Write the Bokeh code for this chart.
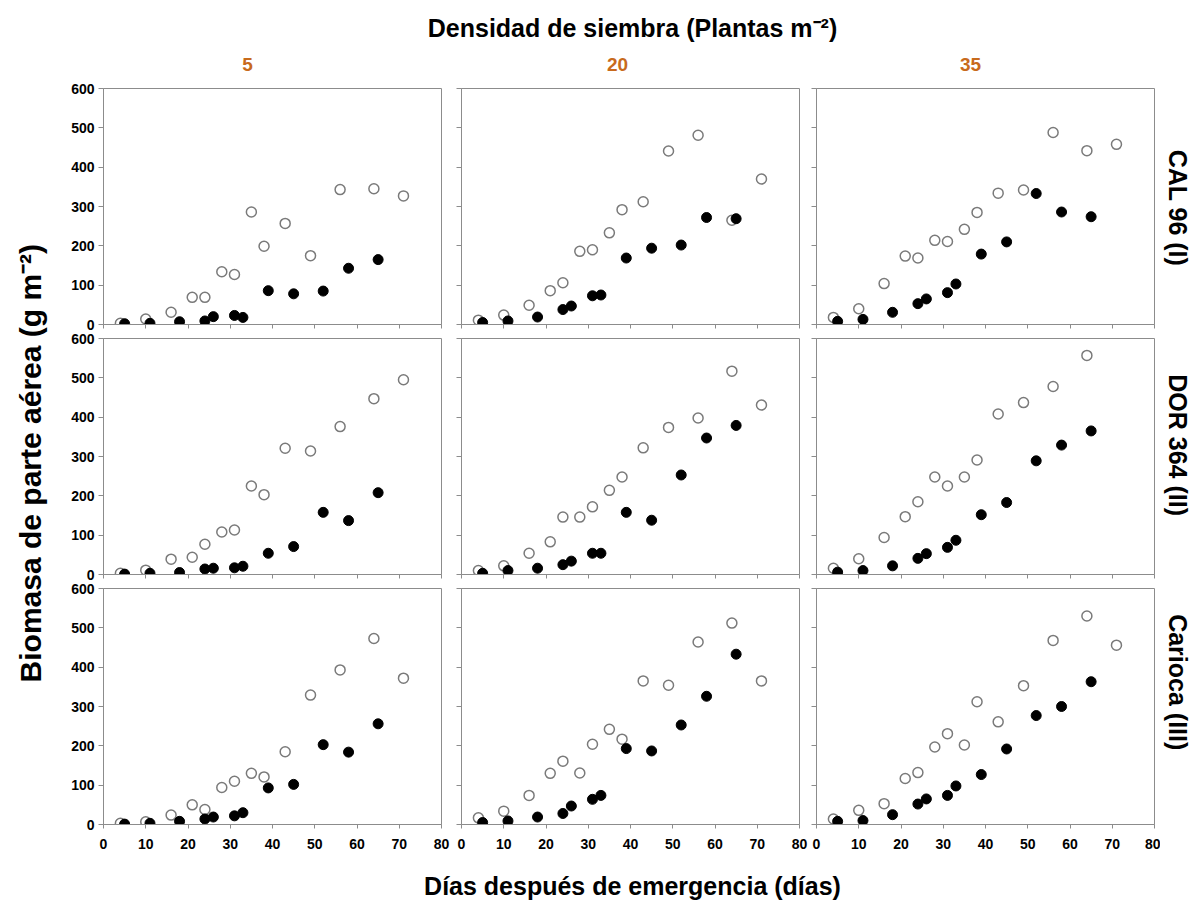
from math import pi
from bokeh.plotting import figure
from bokeh.models import GridBox, Label, Range1d, CustomJSTickFormatter, FixedTicker, ColumnDataSource
from bokeh.embed import file_html
from bokeh.resources import INLINE

# ---------------- data ----------------
open_days = [4, 10, 16, 21, 24, 28, 31, 35, 38, 43, 49, 56, 64, 71]
filled_days = [5, 11, 18, 24, 26, 31, 33, 39, 45, 52, 58, 65]

cultivars = ["CAL 96 (I)", "DOR 364 (II)", "Carioca (III)"]
densities = ["5", "20", "35"]

x_ticks = [0, 10, 20, 30, 40, 50, 60, 70, 80]
y_ticks = [0, 100, 200, 300, 400, 500, 600]

# CAL 96 (I)
open_cal_5 = [3, 14, 31, 69, 69, 134, 127, 286, 199, 257, 175, 343, 345, 327]
filled_cal_5 = [2, 3, 7, 9, 20, 23, 18, 86, 78, 85, 143, 165]
open_cal_20 = [11, 24, 49, 86, 106, 186, 190, 233, 292, 312, 441, 481, 265, 370]
filled_cal_20 = [5, 9, 19, 38, 47, 73, 75, 169, 194, 202, 272, 269]
open_cal_35 = [18, 40, 104, 174, 169, 214, 211, 242, 285, 334, 342, 488, 442, 458]
filled_cal_35 = [8, 13, 31, 53, 65, 81, 103, 179, 210, 333, 286, 274]

# DOR 364 (II)
open_dor_5 = [3, 11, 39, 44, 77, 108, 113, 225, 203, 321, 314, 376, 447, 495]
filled_dor_5 = [1, 3, 5, 14, 16, 17, 21, 54, 71, 158, 137, 208]
open_dor_20 = [10, 22, 54, 83, 146, 146, 172, 214, 248, 322, 374, 398, 517, 431]
filled_dor_20 = [3, 10, 16, 25, 34, 54, 54, 158, 138, 253, 347, 379]
open_dor_35 = [16, 40, 94, 147, 185, 248, 225, 248, 291, 408, 437, 478, 557]
filled_dor_35 = [6, 10, 22, 41, 53, 69, 87, 152, 183, 289, 329, 365]

# Carioca (III)
open_car_5 = [3, 7, 24, 50, 38, 94, 110, 130, 121, 185, 329, 393, 473, 372]
filled_car_5 = [1, 3, 8, 14, 19, 22, 30, 93, 102, 203, 184, 256]
open_car_20 = [17, 34, 74, 130, 161, 131, 204, 242, 217, 365, 354, 464, 512, 365]
filled_car_20 = [5, 9, 19, 28, 47, 64, 74, 193, 187, 253, 326, 433]
open_car_35 = [14, 36, 53, 117, 132, 197, 231, 202, 312, 261, 353, 468, 530, 456]
filled_car_35 = [8, 10, 25, 52, 65, 74, 98, 127, 192, 277, 300, 363]

open_series = [[open_cal_5, open_cal_20, open_cal_35],
               [open_dor_5, open_dor_20, open_dor_35],
               [open_car_5, open_car_20, open_car_35]]
filled_series = [[filled_cal_5, filled_cal_20, filled_cal_35],
                 [filled_dor_5, filled_dor_20, filled_dor_35],
                 [filled_car_5, filled_car_20, filled_car_35]]

# ---------------- style ----------------
FONT = "Liberation Sans"
GRAY = "#8c8c8c"
ORANGE = "#C86A1C"

col_left = [53, 10, 8]
col_right = [10, 9, 6]
row_top = [8, 7, 7]
row_bottom = [7, 7, 32]
FW, FH = 338, 236
TOTAL_W = 1190
GRID_H = 251 + 250 + 275


def text_fig(w, h):
    f = figure(width=w, height=h, x_range=Range1d(0, w), y_range=Range1d(0, h),
               toolbar_location=None, output_backend="svg",
               x_axis_location=None, y_axis_location=None, min_border=0)
    f.grid.visible = False
    f.outline_line_color = None
    return f


def add_text(f, x, y, text, size, color="black", angle=0.0):
    f.add_layout(Label(x=x, y=y, text=text, text_font=FONT, text_font_style="bold",
                       text_font_size=size, text_color=color, text_align="center",
                       text_baseline="middle", angle=angle))


children = []

# top: main title + density headers
top = text_fig(TOTAL_W, 80)
add_text(top, 632, 53, "Densidad de siembra (Plantas m\u207b\u00b2)", "25px")
for xc, d in zip([247, 617, 970], densities):
    add_text(top, xc, 16, d, "19px", ORANGE)
children.append((top, 0, 0, 1, 5))

# left: y axis title
left = text_fig(50, GRID_H)
add_text(left, 30, 381, "Biomasa de parte a\u00e9rea (g m\u207b\u00b2)", "30px", angle=pi / 2)
children.append((left, 1, 0, 3, 1))

# right: cultivar labels
right = text_fig(30, GRID_H)
for yc, cv in zip([650, 400, 150], cultivars):
    add_text(right, 17, yc, cv, "25px", angle=-pi / 2)
children.append((right, 1, 4, 3, 1))

# bottom: x axis title
bottom = text_fig(TOTAL_W, 44)
add_text(bottom, 632, 15, "D\u00edas despu\u00e9s de emergencia (d\u00edas)", "25px")
children.append((bottom, 4, 0, 1, 5))

blank = CustomJSTickFormatter(code="return ''")

for r in range(3):
    for c in range(3):
        p = figure(frame_width=FW, frame_height=FH,
                   x_range=Range1d(0, 80), y_range=Range1d(0, 600),
                   toolbar_location=None, output_backend="svg",
                   min_border_left=col_left[c], min_border_right=col_right[c],
                   min_border_top=row_top[r], min_border_bottom=row_bottom[r])
        p.grid.visible = False
        p.outline_line_color = GRAY
        p.outline_line_width = 1
        p.background_fill_color = "white"
        p.border_fill_color = "white"

        for ax in (p.xaxis[0], p.yaxis[0]):
            ax.axis_line_color = GRAY
            ax.major_tick_line_color = GRAY
            ax.minor_tick_line_color = None
            ax.major_tick_in = 0
            ax.major_label_text_font = FONT
            ax.major_label_text_font_style = "bold"
            ax.major_label_text_font_size = "14px"
            ax.major_label_text_color = "black"
        p.xaxis.ticker = FixedTicker(ticks=x_ticks)
        p.yaxis.ticker = FixedTicker(ticks=y_ticks)
        p.xaxis.major_tick_out = 4
        p.yaxis.major_tick_out = 5

        if c == 0:
            p.yaxis.major_label_standoff = 4
        else:
            p.yaxis.formatter = blank
            p.yaxis.major_label_standoff = 0
        if r == 2:
            p.xaxis.major_label_standoff = 10
        else:
            p.xaxis.formatter = blank
            p.xaxis.major_label_standoff = 0

        ov = open_series[r][c]
        fv = filled_series[r][c]
        src_o = ColumnDataSource(dict(x=open_days[:len(ov)], y=ov))
        src_f = ColumnDataSource(dict(x=filled_days[:len(fv)], y=fv))
        p.scatter("x", "y", source=src_o, size=10, marker="circle",
                  fill_color="white", line_color="#7a7a7a", line_width=1.5)
        p.scatter("x", "y", source=src_f, size=10, marker="circle",
                  fill_color="black", line_color="black", line_width=1)

        children.append((p, r + 1, c + 1))

grid = GridBox(children=children, spacing=0)

open("out.html", "w").write(file_html(grid, INLINE))
